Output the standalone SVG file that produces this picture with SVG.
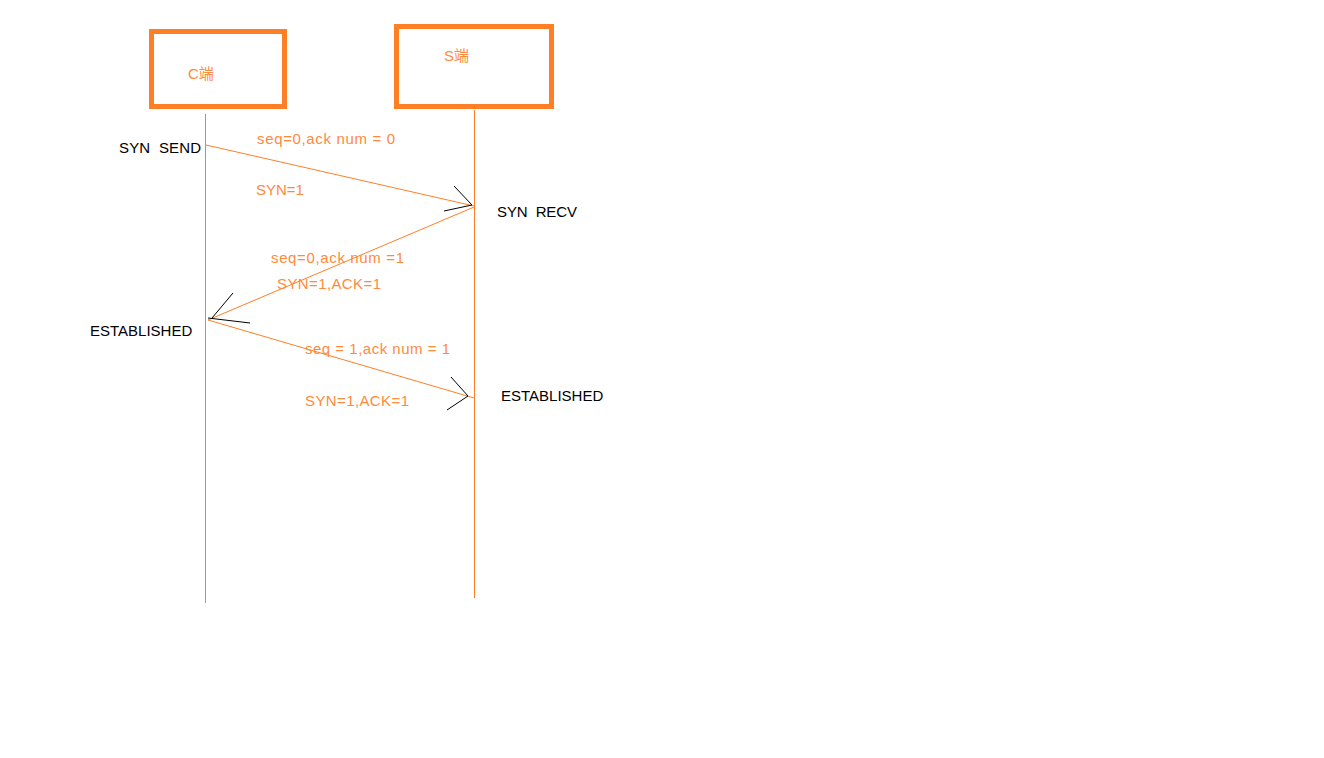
<svg xmlns="http://www.w3.org/2000/svg" width="1324" height="758" viewBox="0 0 1324 758">
<style>
.box{fill:#fff;stroke:#ff7f27;stroke-width:5}
.life{stroke:#ff7f27;stroke-width:1;fill:none}
.msg{stroke:#ff7f27;stroke-width:1;fill:none}
.head{stroke:#000;stroke-width:1;fill:none}
.ot{font-family:"Liberation Sans","Noto Sans CJK SC",sans-serif;font-size:15px;fill:#ff8a3d;white-space:pre}
.bt{font-family:"Liberation Sans","Noto Sans CJK SC",sans-serif;font-size:15px;fill:#000;white-space:pre}
</style>
<rect width="1324" height="758" fill="#fff"/>
<g id="node-c">
<rect class="box" x="151.5" y="31.5" width="133" height="75"/>
<text class="ot" x="188" y="79">C端</text>
</g>
<g id="node-s">
<rect class="box" x="396.5" y="26.5" width="155" height="80"/>
<text class="ot" x="444" y="61">S端</text>
</g>
<g id="lifelines">
<line class="life" x1="205.5" y1="114" x2="205.5" y2="603"/>
<line class="life" x1="474.5" y1="110" x2="474.5" y2="598"/>
</g>
<g id="connectors">
<line class="msg" x1="206" y1="145" x2="474" y2="206"/>
<polyline class="head" points="454,186 472,205 444,211"/>
<line class="msg" x1="474" y1="207" x2="208" y2="320"/>
<line class="head" x1="233" y1="293" x2="212" y2="318"/>
<line class="head" x1="208" y1="318" x2="250" y2="323"/>
<line class="msg" x1="208" y1="320" x2="474" y2="398"/>
<polyline class="head" points="451,377 468,396 447,410"/>
</g>
<g id="labels" xml:space="preserve">
<text class="bt" x="119" y="153" textLength="82">SYN  SEND</text>
<text class="ot" x="257" y="144" textLength="138">seq=0,ack num = 0</text>
<text class="ot" x="256" y="195">SYN=1</text>
<text class="bt" x="497" y="217" textLength="80">SYN  RECV</text>
<text class="ot" x="271" y="263" textLength="133">seq=0,ack num =1</text>
<text class="ot" x="277" y="289" textLength="104">SYN=1,ACK=1</text>
<text class="bt" x="90" y="336">ESTABLISHED</text>
<text class="ot" x="305" y="354" textLength="145">seq = 1,ack num = 1</text>
<text class="ot" x="305" y="406" textLength="104">SYN=1,ACK=1</text>
<text class="bt" x="501" y="401">ESTABLISHED</text>
</g>
</svg>
